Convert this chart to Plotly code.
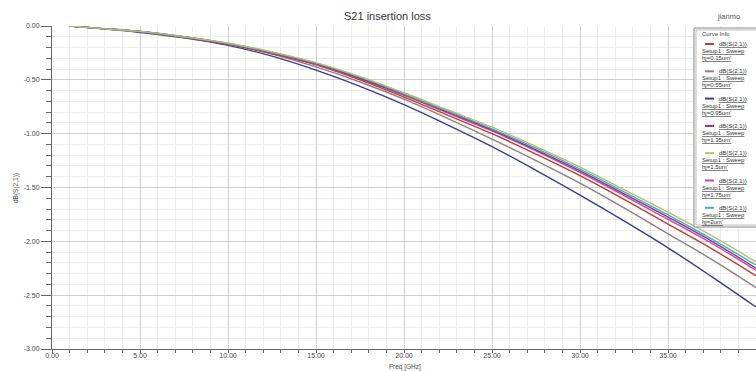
import plotly.graph_objects as go

# ---------------- data ----------------
freq = [1, 2.5, 5, 7.5, 10, 12.5, 15, 17.5, 20, 22.5, 25, 27.5, 30, 32.5, 35, 37.5, 40]

s_015 = [0, -0.02, -0.05, -0.105, -0.17, -0.255, -0.36, -0.50, -0.66, -0.83, -1.00, -1.19, -1.39, -1.61, -1.84, -2.07, -2.32]
s_055 = [0, -0.02, -0.055, -0.105, -0.17, -0.26, -0.38, -0.52, -0.68, -0.86, -1.05, -1.25, -1.46, -1.69, -1.93, -2.17, -2.43]
s_095 = [0, -0.02, -0.06, -0.11, -0.18, -0.28, -0.41, -0.56, -0.73, -0.92, -1.12, -1.34, -1.57, -1.81, -2.06, -2.33, -2.61]
s_135 = [0, -0.02, -0.05, -0.10, -0.165, -0.245, -0.35, -0.485, -0.635, -0.80, -0.965, -1.15, -1.345, -1.56, -1.775, -2.00, -2.25]
s_150 = [0, -0.02, -0.05, -0.10, -0.16, -0.24, -0.34, -0.47, -0.62, -0.78, -0.94, -1.12, -1.31, -1.52, -1.73, -1.95, -2.19]
s_175 = [0, -0.02, -0.05, -0.10, -0.165, -0.25, -0.355, -0.49, -0.645, -0.81, -0.975, -1.16, -1.36, -1.575, -1.795, -2.02, -2.27]
s_200 = [0, -0.02, -0.05, -0.10, -0.16, -0.245, -0.345, -0.475, -0.63, -0.79, -0.955, -1.135, -1.33, -1.54, -1.755, -1.98, -2.22]

series_labels = ["hj=0.15um'", "hj=0.55um'", "hj=0.95um'", "hj=1.35um'", "hj=1.5um'", "hj=1.75um'", "hj=2um'"]
series_values = [s_015, s_055, s_095, s_135, s_150, s_175, s_200]
colors = ["#c23a2e", "#8f7f80", "#3b3b94", "#7b3b8e", "#b3c06a", "#d0449a", "#4aa8c8"]

x_ticks = [0, 5, 10, 15, 20, 25, 30, 35, 40]
x_ticktext = ["0.00", "5.00", "10.00", "15.00", "20.00", "25.00", "30.00", "35.00", "40.00"]
y_ticks = [0, -0.5, -1, -1.5, -2, -2.5, -3]
y_ticktext = ["0.00", "-0.50", "-1.00", "-1.50", "-2.00", "-2.50", "-3.00"]

# ---------------- figure ----------------
W, H = 756, 371
L, R, T, B = 52, 0, 26, 22
PW, PH = W - L - R, H - T - B

def px(x):
    return (x - L) / PW

def py(y):
    return (H - B - y) / PH

fig = go.Figure()
order = [2, 1, 0, 5, 3, 6, 4]
for i in order:
    fig.add_trace(go.Scatter(x=freq, y=series_values[i], mode="lines",
                             line=dict(color=colors[i], width=1.4, shape="spline"),
                             name=series_labels[i], showlegend=False))

FONT = "Liberation Sans, Arial, sans-serif"
fig.update_layout(
    width=W, height=H,
    margin=dict(l=L, r=R, t=T, b=B, autoexpand=False),
    paper_bgcolor="white", plot_bgcolor="white",
    font=dict(family=FONT, size=8, color="#444"),
    showlegend=False,
)
fig.update_xaxes(range=[0, 40], tickmode="array", tickvals=x_ticks, ticktext=x_ticktext,
                 showline=True, linecolor="#666", linewidth=1,
                 showgrid=True, gridcolor="#cfcfcf", gridwidth=1,
                 ticks="outside", ticklen=3, tickcolor="#666",
                 ticklabelstandoff=-3,
                 tickfont=dict(size=7, color="#444"),
                 minor=dict(tickmode="linear", tick0=0, dtick=1, showgrid=True,
                            gridcolor="#ececec", ticks="outside", ticklen=3, tickcolor="#666"),
                 zeroline=False, automargin=False)
fig.update_yaxes(range=[-3, 0], tickmode="array", tickvals=y_ticks, ticktext=y_ticktext,
                 showline=True, linecolor="#666", linewidth=1,
                 showgrid=True, gridcolor="#cfcfcf", gridwidth=1,
                 ticks="outside", ticklen=10, tickcolor="#666",
                 tickfont=dict(size=7, color="#444"),
                 minor=dict(tickmode="linear", tick0=0, dtick=0.1, showgrid=True,
                            gridcolor="#ececec", ticks="outside", ticklen=5, tickcolor="#666"),
                 zeroline=False, automargin=False)

ann = []
ann.append(dict(text="S21 insertion loss", x=px(387), y=py(16), xref="paper", yref="paper",
                showarrow=False, xanchor="center", yanchor="middle",
                font=dict(size=11, color="#333", family=FONT)))
ann.append(dict(text="jianmo", x=px(728), y=py(16), xref="paper", yref="paper",
                showarrow=False, xanchor="center", yanchor="middle",
                font=dict(size=7.5, color="#555", family=FONT)))
ann.append(dict(text="Freq [GHz]", x=px(405), y=py(366.5), xref="paper", yref="paper",
                showarrow=False, xanchor="center", yanchor="middle",
                font=dict(size=6.5, color="#444", family=FONT)))
ann.append(dict(text="dB(S(2,1))", x=px(16), y=py(188), xref="paper", yref="paper",
                showarrow=False, xanchor="center", yanchor="middle", textangle=-90,
                font=dict(size=6.5, color="#444", family=FONT)))

shapes = []
shapes.append(dict(type="rect", xref="paper", yref="paper",
                   x0=px(694), x1=px(760), y0=py(227), y1=py(28),
                   line=dict(color="#888", width=1), fillcolor="white", layer="above"))
shapes.append(dict(type="rect", xref="paper", yref="paper",
                   x0=px(696), x1=px(760), y0=py(225), y1=py(30),
                   line=dict(color="#bbb", width=1), fillcolor="rgba(0,0,0,0)", layer="above"))
ann.append(dict(text="Curve Info", x=px(716), y=py(34), xref="paper", yref="paper",
                showarrow=False, xanchor="center", yanchor="middle",
                font=dict(size=6, color="#444", family=FONT)))
for i, lab in enumerate(series_labels):
    y0 = 44 + 27.3 * i
    shapes.append(dict(type="line", xref="paper", yref="paper",
                       x0=px(705), x1=px(714), y0=py(y0), y1=py(y0),
                       line=dict(color=colors[i], width=2), layer="above"))
    ann.append(dict(text="dB(S(2,1))", x=px(749), y=py(y0), xref="paper", yref="paper",
                    showarrow=False, xanchor="right", yanchor="middle",
                    font=dict(size=6, color="#333", family=FONT, lineposition="under")))
    ann.append(dict(text="Setup1 : Sweep", x=px(700), y=py(y0 + 7), xref="paper", yref="paper",
                    showarrow=False, xanchor="left", yanchor="middle",
                    font=dict(size=6, color="#333", family=FONT, lineposition="under")))
    ann.append(dict(text=lab, x=px(700), y=py(y0 + 14), xref="paper", yref="paper",
                    showarrow=False, xanchor="left", yanchor="middle",
                    font=dict(size=6, color="#333", family=FONT, lineposition="under")))

fig.update_layout(annotations=ann, shapes=shapes)
fig.write_html("out.html")
